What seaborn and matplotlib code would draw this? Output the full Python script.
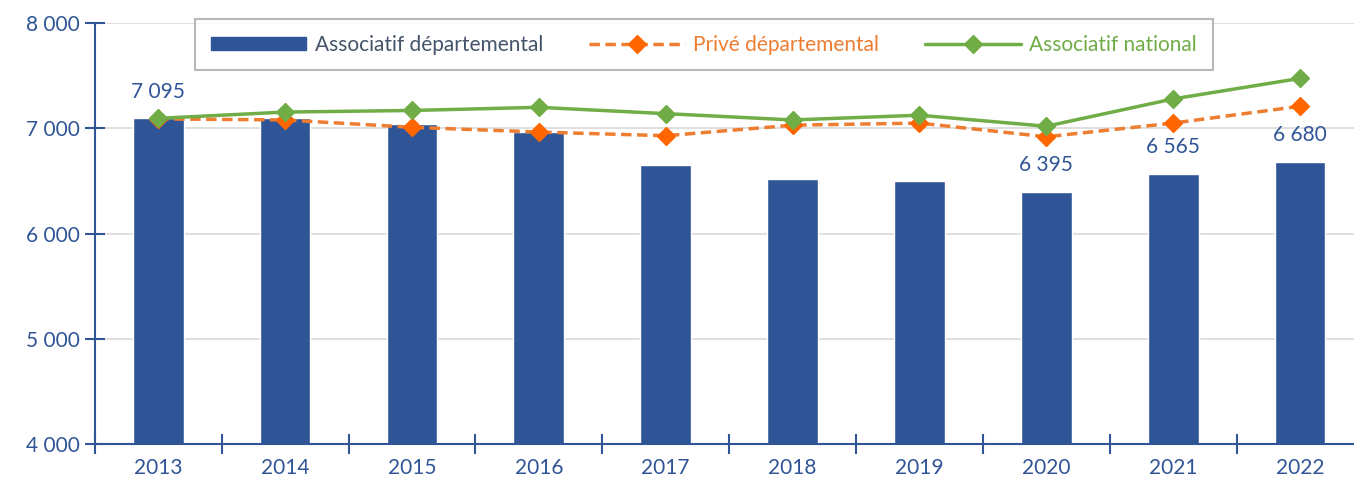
import matplotlib
matplotlib.use("Agg")
import matplotlib.pyplot as plt
import matplotlib.ticker as mticker
from matplotlib.lines import Line2D
from matplotlib.patches import Patch
import seaborn as sns
import numpy as np
import pandas as pd

# données
annees = ["2013", "2014", "2015", "2016", "2017", "2018", "2019", "2020", "2021", "2022"]
associatif_dep = [7095, 7100, 7040, 6965, 6655, 6520, 6495, 6395, 6565, 6680]
prive_dep = [7090, 7080, 7010, 6965, 6930, 7030, 7050, 6920, 7050, 7210]
associatif_nat = [7095, 7155, 7170, 7200, 7140, 7080, 7125, 7020, 7280, 7475]
annees_etiquetees = ["2013", "2020", "2021", "2022"]

BLEU = "#2F5597"
ORANGE_LIGNE = "#ED7D31"
ORANGE_MARQ = "#FF6600"
VERT = "#70AD47"
TEXTE_LEG = "#44546A"

sns.set_style("white")
plt.rcParams['font.family'] = ['Lato', 'DejaVu Sans']

fig = plt.figure(figsize=(13.54, 4.83), dpi=100)
ax = fig.add_axes([0.070, 0.081, 0.937, 0.871])

df = pd.DataFrame({"annee": annees, "valeur": associatif_dep})
sns.barplot(data=df, x="annee", y="valeur", color=BLEU, width=0.4, ax=ax,
            saturation=1, zorder=2)

x = np.arange(len(annees))
ax.plot(x, prive_dep, color=ORANGE_LIGNE, linestyle=(0, (3, 1.6)), linewidth=2.5,
        marker="D", markersize=9, markerfacecolor=ORANGE_MARQ,
        markeredgecolor=ORANGE_MARQ, zorder=3)
ax.plot(x, associatif_nat, color=VERT, linewidth=2.5,
        marker="D", markersize=9, markerfacecolor=VERT,
        markeredgecolor=VERT, zorder=4)

# étiquettes de valeurs
for i, a in enumerate(annees):
    if a in annees_etiquetees:
        v = associatif_dep[i]
        ax.text(i, v + 160, f"{v:,}".replace(",", " "), ha="center", va="bottom",
                color=BLEU, fontsize=15)

ax.set_xlim(-0.5, 9.5)
ax.set_ylim(4000, 8000)
ax.yaxis.set_major_locator(mticker.MultipleLocator(1000))
ax.yaxis.set_major_formatter(mticker.FuncFormatter(lambda v, p: f"{int(v):,}".replace(",", " ")))
ax.set_xlabel("")
ax.set_ylabel("")

ax.grid(axis="y", color="#D9D9D9", linewidth=1.2, zorder=0)
ax.set_axisbelow(True)
for s in ["top", "right"]:
    ax.spines[s].set_visible(False)
for s in ["left", "bottom"]:
    ax.spines[s].set_color(BLEU)
    ax.spines[s].set_linewidth(1.5)

ax.tick_params(axis="y", left=True, direction="inout", length=14, width=1.5, color=BLEU,
               labelcolor=BLEU, labelsize=15, pad=4)
ax.set_xticks(x)
ax.set_xticklabels(annees)
ax.tick_params(axis="x", bottom=True, length=0, labelcolor=BLEU, labelsize=15, pad=10)
ax.set_xticks(np.arange(-0.5, 10, 1), minor=True)
ax.tick_params(axis="x", which="minor", bottom=True, direction="inout", length=14,
               width=1.5, color=BLEU)

handles = [
    Patch(facecolor=BLEU, edgecolor=BLEU),
    Line2D([0], [0], color=ORANGE_LIGNE, linestyle=(0, (3, 1.6)), linewidth=2.5,
           marker="D", markersize=9, markerfacecolor=ORANGE_MARQ, markeredgecolor=ORANGE_MARQ),
    Line2D([0], [0], color=VERT, linewidth=2.5, marker="D", markersize=9,
           markerfacecolor=VERT, markeredgecolor=VERT),
]
labels = ["Associatif départemental", "Privé départemental", "Associatif national"]
leg = fig.legend(handles, labels, ncol=3, loc="upper left",
                 bbox_to_anchor=(195 / 1354, 1 - 19 / 483), fontsize=15,
                 frameon=True, fancybox=False, edgecolor="#A6A6A6",
                 handlelength=4.6, handleheight=0.6, columnspacing=2.2,
                 handletextpad=0.4, borderpad=0.75, borderaxespad=0)
leg.get_frame().set_linewidth(1.5)
for t, c in zip(leg.get_texts(), [TEXTE_LEG, ORANGE_LIGNE, VERT]):
    t.set_color(c)

fig.savefig("out.png", dpi=100)
